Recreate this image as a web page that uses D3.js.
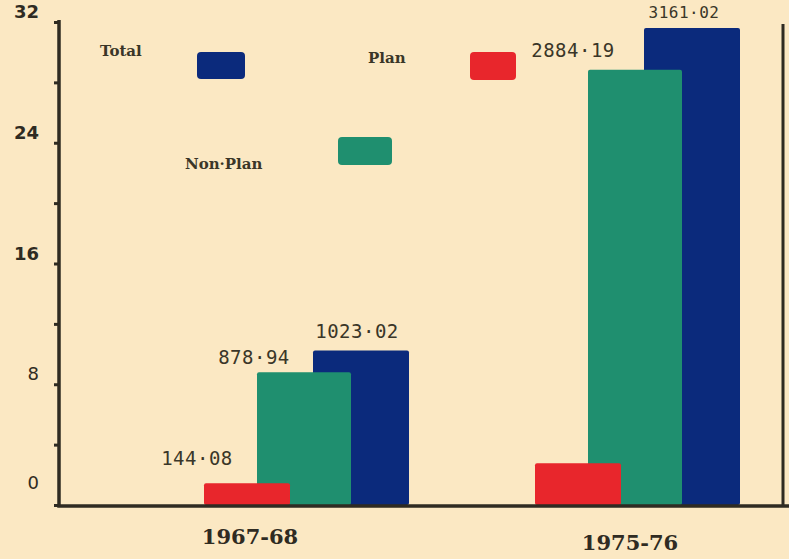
<!DOCTYPE html>
<html>
<head>
<meta charset="utf-8">
<script src="https://cdn.jsdelivr.net/npm/d3@7"></script>
<style>
  html, body { margin: 0; padding: 0; background: #fbe8c3; }
  svg { display: block; }
</style>
</head>
<body>
<div id="chart"></div>
<script>
// Expenditure (Rs. crore), axis in hundreds
const years = ['1967-68', '1975-76'];
const series = ['Plan', 'Non-Plan', 'Total'];
const planValues = [144.08, 276.83];
const nonPlanValues = [878.94, 2884.19];
const totalValues = [1023.02, 3161.02];
const yTicks = [0, 8, 16, 24, 32];
// printed value labels (1975-76 plan was left unlabelled)
const valueLabels = [
    ['144·08', '878·94', '1023·02'],
    [null, '2884·19', '3161·02']
];

const width = 789, height = 559;
const colors = { 'Plan': '#e8262c', 'Non-Plan': '#1f8f6f', 'Total': '#0b2a7c' };
const ink = '#2f2b22';

// hand placed label nudges, [dx, dy] from bar top centre
const labelNudge = {
    '1967-68': { 'Plan': [-50, -18], 'Non-Plan': [-50, -8], 'Total': [-4, -13] },
    '1975-76': { 'Plan': [0, 0], 'Non-Plan': [-62, -13], 'Total': [-8, -10] }
};

const svg = d3.select('#chart').append('svg')
    .attr('width', width)
    .attr('height', height);

svg.append('rect')
    .attr('width', width).attr('height', height)
    .attr('fill', '#fbe8c3');

const y = d3.scaleLinear().domain([0, 32]).range([505, 22]);
const x0 = d3.scalePoint().domain(years).range([305, 636]);
const xs = d3.scalePoint().domain(series).range([-58, 56]);
const barW = { 'Plan': 86, 'Non-Plan': 94, 'Total': 96 };

// one record per bar, drawn back to front: Total, Non-Plan, Plan
const bars = [];
years.forEach((yr, i) => {
    bars.push({ year: yr, s: 'Total', v: totalValues[i] / 100, label: valueLabels[i][2] });
    bars.push({ year: yr, s: 'Non-Plan', v: nonPlanValues[i] / 100, label: valueLabels[i][1] });
    bars.push({ year: yr, s: 'Plan', v: planValues[i] / 100, label: valueLabels[i][0] });
});

const cx = d => x0(d.year) + xs(d.s);

svg.selectAll('.bar')
    .data(bars)
    .enter()
    .append('rect')
    .attr('class', 'bar')
    .attr('x', d => cx(d) - barW[d.s] / 2)
    .attr('y', d => y(d.v))
    .attr('width', d => barW[d.s])
    .attr('height', d => y(0) - y(d.v))
    .attr('rx', 2)
    .attr('fill', d => colors[d.s]);

svg.selectAll('.val')
    .data(bars.filter(d => d.label))
    .enter()
    .append('text')
    .attr('class', 'val')
    .attr('x', d => cx(d) + labelNudge[d.year][d.s][0])
    .attr('y', d => y(d.v) + labelNudge[d.year][d.s][1])
    .attr('text-anchor', 'middle')
    .attr('font-family', 'DejaVu Sans Mono, monospace')
    .attr('font-size', d => d.year === '1975-76' && d.s === 'Total' ? '16px' : '19px')
    .attr('letter-spacing', '0.5px')
    .attr('fill', '#3a3628')
    .text(d => d.label);

// axes
const yAxis = d3.axisLeft(y)
    .tickValues(d3.range(0, 33, 4))
    .tickSize(5)
    .tickFormat(d => yTicks.includes(d) ? d : '');

const gy = svg.append('g')
    .attr('transform', 'translate(59,0)')
    .call(yAxis);
gy.select('.domain').remove();
gy.selectAll('.tick line').attr('stroke', ink).attr('stroke-width', 3);
gy.selectAll('.tick text')
    .attr('x', -20)
    .attr('dy', d => d === 0 ? '-0.9em' : '-0.25em')
    .attr('fill', ink)
    .attr('font-family', 'DejaVu Sans, sans-serif')
    .attr('font-weight', d => d >= 16 ? 'bold' : 'normal')
    .attr('font-size', '18px');

svg.append('path')
    .attr('d', d3.line()([[59, 20], [59, 506], [789, 506]]))
    .attr('fill', 'none')
    .attr('stroke', ink)
    .attr('stroke-width', 3.5);
svg.append('line')
    .attr('x1', 783).attr('x2', 783)
    .attr('y1', 24).attr('y2', 506)
    .attr('stroke', ink)
    .attr('stroke-width', 3);

// year labels
svg.selectAll('.year')
    .data(years)
    .enter()
    .append('text')
    .attr('class', 'year')
    .attr('x', (d, i) => x0(d) + (i === 0 ? -55 : -6))
    .attr('y', (d, i) => i === 0 ? 544 : 550)
    .attr('text-anchor', 'middle')
    .attr('font-family', 'DejaVu Serif, serif')
    .attr('font-weight', 'bold')
    .attr('font-size', '21px')
    .attr('fill', ink)
    .text(d => d);

// legend
const legend = [
    { s: 'Total', tx: 100, ty: 56, sx: 197, sy: 52, sw: 48, sh: 27 },
    { s: 'Plan', tx: 368, ty: 63, sx: 470, sy: 52, sw: 46, sh: 28 },
    { s: 'Non-Plan', tx: 185, ty: 169, sx: 338, sy: 137, sw: 54, sh: 28 }
];
const lg = svg.selectAll('.legend')
    .data(legend)
    .enter()
    .append('g')
    .attr('class', 'legend');
lg.append('text')
    .attr('x', d => d.tx)
    .attr('y', d => d.ty)
    .attr('font-family', 'DejaVu Serif, serif')
    .attr('font-weight', 'bold')
    .attr('font-size', '15px')
    .attr('fill', '#3a3628')
    .text(d => d.s === 'Non-Plan' ? 'Non·Plan' : d.s);
lg.append('rect')
    .attr('x', d => d.sx)
    .attr('y', d => d.sy)
    .attr('width', d => d.sw)
    .attr('height', d => d.sh)
    .attr('rx', 4)
    .attr('fill', d => colors[d.s]);
</script>
</body>
</html>
